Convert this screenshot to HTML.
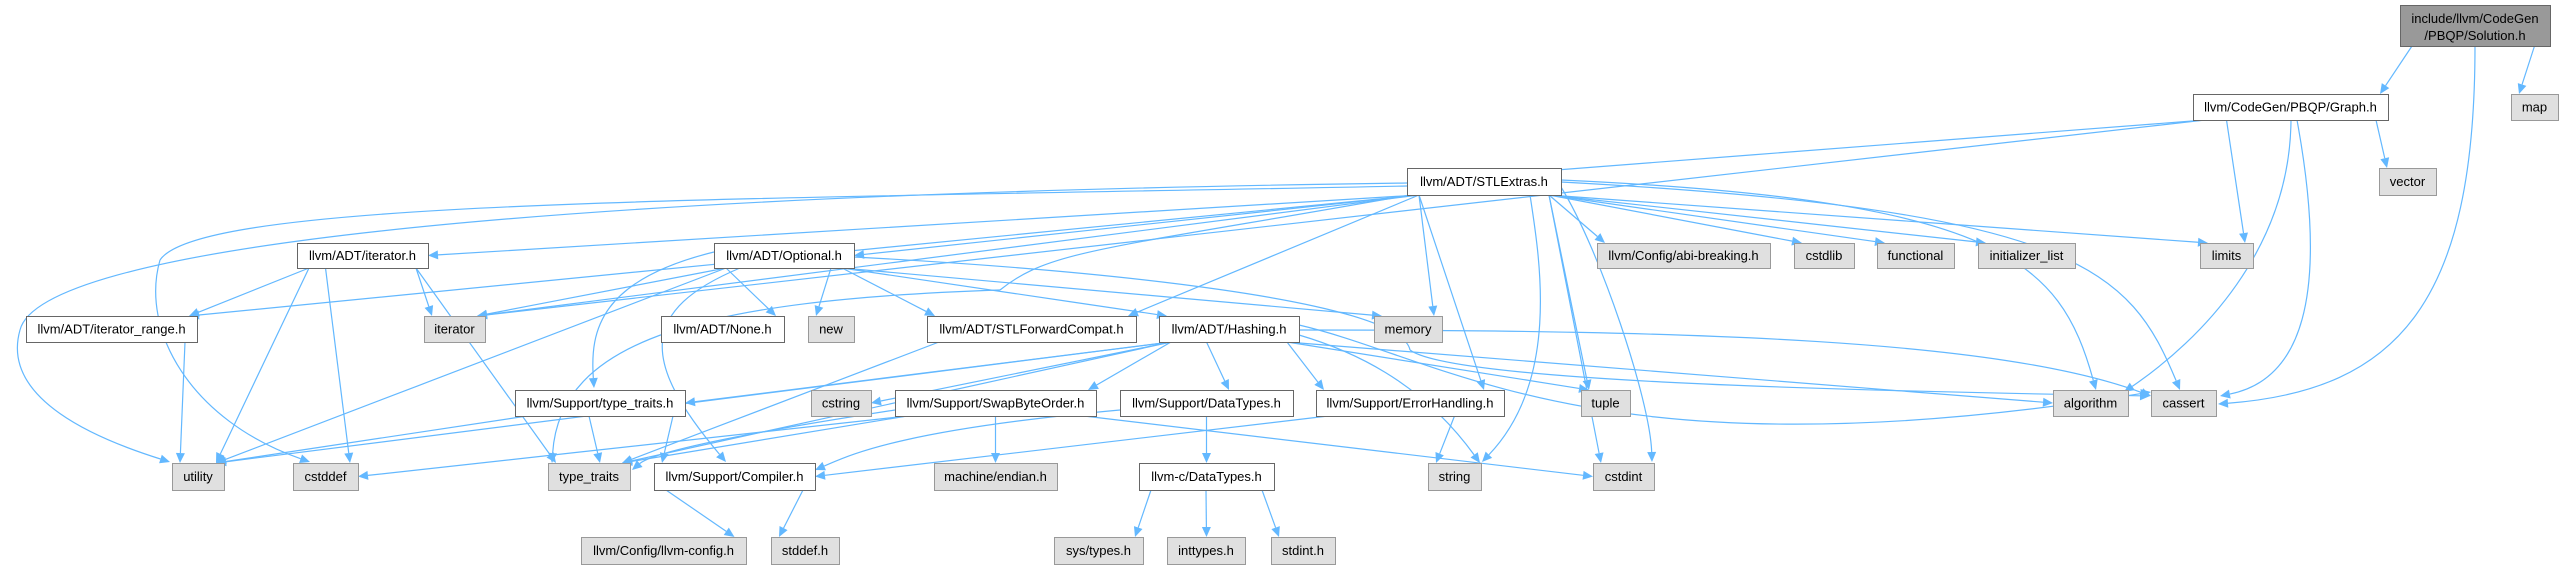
<!DOCTYPE html>
<html><head><meta charset="utf-8"><style>
html,body{margin:0;padding:0;background:#fff;width:2563px;height:567px;overflow:hidden}
svg{display:block}
text{font-family:"Liberation Sans",Arial,sans-serif;font-size:13px;fill:#000}
</style></head><body>
<svg id="g" width="2563" height="567" xmlns="http://www.w3.org/2000/svg"></svg>
<script>
var N={
sol:[2400,5,2550,46,"include/llvm/CodeGen\n/PBQP/Solution.h",2],
graph:[2193,94,2388,120,"llvm/CodeGen/PBQP/Graph.h",0],
map:[2511,94,2558,120,"map",1],
stl:[1407,168,1561,195,"llvm/ADT/STLExtras.h",0],
vector:[2379,168,2436,195,"vector",1],
ith:[297,243,428,268,"llvm/ADT/iterator.h",0],
opt:[714,243,854,268,"llvm/ADT/Optional.h",0],
abi:[1597,243,1770,268,"llvm/Config/abi-breaking.h",1],
cstdlib:[1794,243,1854,268,"cstdlib",1],
functional:[1877,243,1954,268,"functional",1],
init:[1978,243,2075,268,"initializer_list",1],
limits:[2200,243,2253,268,"limits",1],
itr:[26,316,197,342,"llvm/ADT/iterator_range.h",0],
iterator:[424,316,485,342,"iterator",1],
none:[661,316,784,342,"llvm/ADT/None.h",0],
"new":[808,316,854,342,"new",1],
fwd:[927,316,1136,342,"llvm/ADT/STLForwardCompat.h",0],
hash:[1159,316,1299,342,"llvm/ADT/Hashing.h",0],
memory:[1374,316,1442,342,"memory",1],
stt:[515,390,685,416,"llvm/Support/type_traits.h",0],
cstring:[811,390,871,416,"cstring",1],
swap:[895,390,1096,416,"llvm/Support/SwapByteOrder.h",0],
dt:[1120,390,1293,416,"llvm/Support/DataTypes.h",0],
err:[1316,390,1504,416,"llvm/Support/ErrorHandling.h",0],
tuple:[1581,390,1630,416,"tuple",1],
algo:[2053,390,2128,416,"algorithm",1],
cassert:[2151,390,2216,416,"cassert",1],
utility:[172,463,224,490,"utility",1],
cstddef:[293,463,358,490,"cstddef",1],
tt:[548,463,630,490,"type_traits",1],
comp:[654,463,815,490,"llvm/Support/Compiler.h",0],
endian:[934,463,1057,490,"machine/endian.h",1],
cdt:[1139,463,1274,490,"llvm-c/DataTypes.h",0],
string:[1428,463,1481,490,"string",1],
cstdint:[1593,463,1654,490,"cstdint",1],
cfg:[581,537,746,564,"llvm/Config/llvm-config.h",1],
stddef:[771,537,839,564,"stddef.h",1],
systypes:[1054,537,1143,564,"sys/types.h",1],
inttypes:[1167,537,1245,564,"inttypes.h",1],
stdint:[1271,537,1335,564,"stdint.h",1]
};
var E=[
["sol","graph"],["sol","map"],
["graph","stl","L"],["graph","iterator"],["graph","vector"],["graph","limits"],
["stl","ith","R"],["stl","opt","R"],["stl","itr"],["stl","iterator"],["stl","fwd"],["stl","memory"],["stl","err"],["stl","tuple"],["stl","cstdint"],["stl","abi"],["stl","cstdlib"],["stl","functional"],["stl","init"],["stl","limits"],
["ith","itr"],["ith","iterator"],["ith","utility"],["ith","cstddef"],["ith","tt"],
["itr","utility"],
["opt","none"],["opt","new"],["opt","utility"],["opt","fwd"],["opt","hash"],["opt","memory"],["opt","iterator"],
["hash","stt","R"],["hash","utility"],["hash","cstring","R"],["hash","swap"],["hash","dt"],["hash","err"],["hash","tuple"],["hash","algo","L"],["hash","tt"],
["stt","utility"],["stt","tt"],["stt","comp"],
["swap","cstddef","R"],["swap","tt"],["swap","cstdint","L"],["swap","endian"],
["dt","cdt"],["err","string"],["err","comp","R"],["fwd","tt"],
["cdt","systypes"],["cdt","inttypes"],["cdt","stdint"],
["comp","cfg"],["comp","stddef"]
];
/* explicit curves: [start x,y, c1, c2, end] */
var P=[
[2475,46, 2475,300, 2400,390, 2218,404],
[2297,120, 2330,300, 2300,380, 2220,396],
[2291,120, 2290,250, 2200,340, 2124,392],
[1561,180, 2000,200, 2060,260, 2096,390],
[1561,182, 2080,210, 2130,270, 2180,390],
[1299,330, 1700,330, 2000,340, 2151,396],
[1299,325, 1450,360, 1600,480, 2151,392],
[1407,183, 500,195, 40,250, 20,330],
[20,330, 0,400, 100,440, 170,462],
[1407,186, 700,200, 200,200, 160,260],
[160,260, 140,330, 190,420, 310,462],
[1410,195, 1100,250, 1050,250, 1000,290],
[1000,290, 700,300, 560,340, 552,463],
[714,252, 600,280, 590,330, 594,388],
[740,268, 640,310, 640,360, 726,462],
[854,257, 1100,270, 1400,300, 1410,350],
[1410,350, 1450,380, 1800,390, 2150,396],
[1561,187, 1600,250, 1650,400, 1652,462],
[1530,195, 1540,260, 1560,380, 1482,462],
[1299,335, 1350,350, 1420,380, 1480,463],
[895,410, 700,440, 650,455, 632,470],
[1120,410, 900,430, 850,455, 815,470]
];
var C="#63b8ff",s="";
function cl(v,a,b){return Math.max(a,Math.min(b,v))}
function arrow(cx,cy,tx,ty){
 var dx=tx-cx,dy=ty-cy,L=Math.sqrt(dx*dx+dy*dy)||1,ux=dx/L,uy=dy/L;
 var ex=tx-ux*10,ey=ty-uy*10,px=-uy*4.5,py=ux*4.5;
 s+='<polygon points="'+tx+','+ty+' '+(ex+px)+','+(ey+py)+' '+(ex-px)+','+(ey-py)+'" fill="'+C+'"/>';
 return [ex,ey];
}
var ends={};
E.forEach(function(e){
 var a=N[e[0]],b=N[e[1]];
 var acx=(a[0]+a[2])/2,bcx=(b[0]+b[2])/2;
 var sx=cl(bcx,a[0]+12,a[2]-12),sy=a[3];
 var tx,ty,c1x,c1y,c2x,c2y;
 if(e[2]=="R"){tx=b[2];ty=(b[1]+b[3])/2;}
 else if(e[2]=="L"){tx=b[0];ty=(b[1]+b[3])/2;}
 else{tx=cl(acx,b[0]+8,b[2]-8);ty=b[1];}
 var dy=ty-sy;
 c1x=sx+(tx-sx)*0.35;c1y=sy+dy*0.35;c2x=sx+(tx-sx)*0.65;c2y=sy+dy*0.65;
 var ep=arrow(c2x,c2y,tx,ty);
 s+='<path d="M'+sx+','+sy+' C'+c1x+','+c1y+' '+c2x+','+c2y+' '+ep[0]+','+ep[1]+'" fill="none" stroke="'+C+'" stroke-width="1.2"/>';
});
P.forEach(function(p){
 var isMid=false;
 // segments ending at arbitrary points (continuations) have no arrow when followed by another starting there
 P.forEach(function(q){if(q!==p&&q[0]==p[6]&&q[1]==p[7])isMid=true;});
 var ex=p[6],ey=p[7];
 if(!isMid){var ep=arrow(p[4],p[5],p[6],p[7]);ex=ep[0];ey=ep[1];}
 s+='<path d="M'+p[0]+','+p[1]+' C'+p[2]+','+p[3]+' '+p[4]+','+p[5]+' '+ex+','+ey+'" fill="none" stroke="'+C+'" stroke-width="1.2"/>';
});
for(var k in N){var n=N[k];
 var f=n[5]==2?"#999999":n[5]==1?"#e0e0e0":"#ffffff",st=n[5]==1?"#999999":"#666666";
 s+='<rect x="'+(n[0]+0.5)+'" y="'+(n[1]+0.5)+'" width="'+(n[2]-n[0])+'" height="'+(n[3]-n[1])+'" fill="'+f+'" stroke="'+st+'" stroke-width="1"/>';
 var ls=n[4].split("\n"),cx=(n[0]+n[2])/2;
 if(ls.length==1)s+='<text x="'+cx+'" y="'+((n[1]+n[3])/2+4.5)+'" text-anchor="middle">'+ls[0]+'</text>';
 else{s+='<text x="'+cx+'" y="'+(n[1]+18)+'" text-anchor="middle">'+ls[0]+'</text><text x="'+cx+'" y="'+(n[1]+35)+'" text-anchor="middle">'+ls[1]+'</text>';}
}
document.getElementById("g").innerHTML=s;
</script>
</body></html>
